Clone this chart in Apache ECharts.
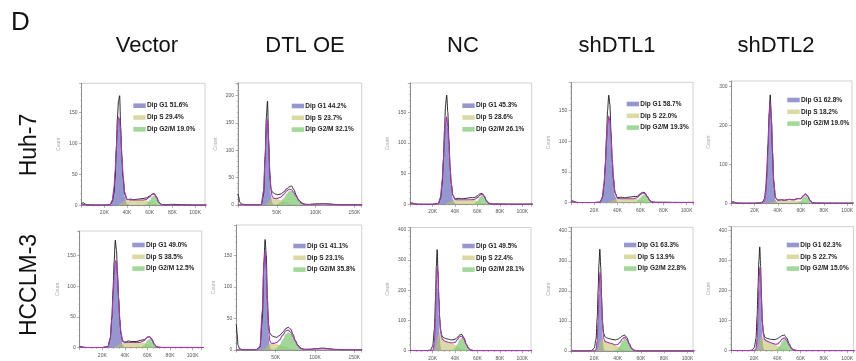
<!DOCTYPE html>
<html><head><meta charset="utf-8">
<script src="https://cdn.jsdelivr.net/npm/echarts@6/dist/echarts.min.js"></script>
<style>html,body{margin:0;padding:0;background:#fff}#c{width:856px;height:361px}</style>
</head><body><div id="c"></div>
<script>
// ---- x sample positions (K) ----
const xsA = [0,1.5,3,5,10, 20,25,27,28.5,29.5, 30.5,31.5,32.5,33.5,34.5, 35.5,36.5,38,40,43, 46,50,54,57,60, 62,64,66,68,70, 73,80,90,100,110];
const xsB = [0,1.5,3,5,10, 15,18,20,21.5,22.5, 23.25,24,24.75,25.5,26.25, 27,28,29,30.5,32, 34,36,38,40,42, 44,46,48,50,52, 54,57,60,65,75, 90,110];
const xsC = [0,1,2,4,8, 15,25,30,33,35, 36.5,38,39.5,41,42.5, 44,46,48,51,55, 59,63,66,69,72, 75,78,82,86,92, 100,110,118,125,135, 145,160];

const colTitles = ["Vector","DTL OE","NC","shDTL1","shDTL2"];
const rowTitles = ["Huh-7","HCCLM-3"];

// ---- Huh-7 Vector ----
const p1G1 = [0,0,0,0,0, 0,1,8,28,55, 90,123,141,136,110, 75,43,14,2,0, 0,0,0,0,0, 0,0,0,0,0, 0,0,0,0,0];
const p1S  = [0,0,0,0,0, 0,0,0,0,0, 0,0,1,2,3, 4.5,6,7,8,8.5, 8.5,8.5,8.5,8,5.5, 3.5,2,1,0.3,0, 0,0,0,0,0];
const p1G2 = [0,0,0,0,0, 0,0,0,0,0, 0,0,0,0,0, 0,0,0,0,0, 0,0,0,1.5,8, 14,16,11,5,1.5, 0,0,0,0,0];
const p1Model = [1.5,1.5,1,0.5,0.3, 0.3,1,8,28,55, 90,123,142,138,113, 79.5,49,21,10,8.5, 8.5,8.5,8.5,9.5,13.5, 17.5,18,12,5.3,1.5, 0.3,0.3,0.3,0.3,0.3];
const p1Total = [3,4,2,1,0.5, 0.5,1,6,20,45, 90,140,168,177,125, 78,45,18,9,10, 9,10,11,12,15, 18,19,14,5,1.5, 1,1.5,1,0.5,0.5];
const p1Labels = ["Dip G1 51.6%","Dip S 29.4%","Dip G2/M 19.0%"];

// ---- Huh-7 DTL OE ----
const p2G1 = [0,0,0,0,0, 0,0,1,27,91, 143,153,110,54,18, 4,0.3,0,0,0, 0,0,0,0,0, 0,0,0,0,0, 0,0,0,0,0, 0,0];
const p2S  = [0,0,0,0,0, 0,0,0,0,0, 1,3,6,9,11, 12,12,11.5,10.5,9, 7,5,3.5,2.5,1.5, 1,0.5,0,0,0, 0,0,0,0,0, 0,0];
const p2G2 = [0,0,0,0,0, 0,0,0,0,0, 0,0,0,0,0, 0,0,0.5,1.6,5.3, 12.4,21,25.4,25.4,21, 14.6,8.4,3,0.8,0.2, 0,0,0,0,0, 0,0];
const p2Model = [0.3,0.3,0.3,0.3,0.3, 0.3,0.3,1,27,91, 144,156,116,63,29, 16,12.3,12,12.1,14.3, 19.4,26,28.9,27.9,22.5, 15.6,8.9,3,1,1, 1.5,2,1.5,0.5,0.3, 0.3,0.3];
const p2Total = [20,15,6,2,1, 0.5,0.3,1,20,90, 160,190,120,55,30, 24,22,20,19,20, 24,30,33,35,28, 18,10,4,1.5,1, 2,2.5,2,1,0.5, 0.5,0.5];
const p2Labels = ["Dip G1 44.2%","Dip S 23.7%","Dip G2/M 32.1%"];

// ---- Huh-7 NC ----
const p3G1 = [0,0,0,0,0, 0,1.4,12,40,71, 106,133,141,124,93, 58,30,8,1,0, 0,0,0,0,0, 0,0,0,0,0, 0,0,0,0,0];
const p3S  = [0,0,0,0,0, 0,0,0,0,0, 0,0.5,1.5,2.5,3.5, 4.5,5.5,6.5,7,7.5, 7.5,7.5,7.5,7,5, 3.5,2,1,0.3,0, 0,0,0,0,0];
const p3G2 = [0,0,0,0,0, 0,0,0,0,0, 0,0,0,0,0, 0,0,0,0,0, 0,0,0,1,6, 11.6,14.5,11.6,6,2, 0.2,0,0,0,0];
const p3Model = [1.5,1.5,1,0.4,0.3, 0.3,1.5,12,40,71, 106,133.5,142.5,126.5,96.5, 62.5,35.5,14.5,8,7.5, 7.5,7.5,7.5,8,11, 15,16.5,12.6,6.3,2, 0.3,0.3,0.3,0.3,0.3];
const p3Total = [2,2.5,1.5,0.5,0.3, 0.3,1.5,10,35,72, 120,162,178,150,105, 62,35,15,9,10, 9,10,11,11,14, 17,18,14,6,2, 0.8,0.8,0.5,0.5,0.5];
const p3Labels = ["Dip G1 45.3%","Dip S 28.6%","Dip G2/M 26.1%"];

// ---- Huh-7 shDTL1 ----
const p4G1 = [0,0,0,0,0, 0,0.5,9,33,61, 95,126,140,130,102, 67,37,11,1,0, 0,0,0,0,0, 0,0,0,0,0, 0,0,0,0,0];
const p4S  = [0,0,0,0,0, 0,0,0,0,0, 0,0.5,1,2,3, 4,5,5.5,6,6.5, 6.5,6.5,6.5,6,4.5, 3,1.5,0.7,0.2,0, 0,0,0,0,0];
const p4G2 = [0,0,0,0,0, 0,0,0,0,0, 0,0,0,0,0, 0,0,0,0,0, 0,0,0,2,8.5, 13,13,8.5,3.5,1, 0.1,0,0,0,0];
const p4Model = [1.5,2,1,0.4,0.3, 0.3,0.8,9,33,61, 95,126.5,141,132,105, 71,42,16.5,7,6.5, 6.5,6.5,6.5,8,13, 16,14.5,9.2,3.7,1, 0.3,0.3,0.3,0.3,0.3];
const p4Total = [2.5,3,1.5,0.5,0.3, 0.3,1,8,30,62, 105,150,175,160,115, 72,40,16,8,9, 8,9,10,10,15, 17,16,10,4,1.5, 0.8,0.8,0.5,0.5,0.5];
const p4Labels = ["Dip G1 58.7%","Dip S 22.0%","Dip G2/M 19.3%"];

// ---- Huh-7 shDTL2 ----
const p5G1 = [0,0,0,0,0, 0,0,0,3,16, 54,128,214,255,214, 128,54,8,0.3,0, 0,0,0,0,0, 0,0,0,0,0, 0,0,0,0,0];
const p5S  = [0,0,0,0,0, 0,0,0,0,0, 0,0,1,2,3, 4,5,6,6.5,7, 7,7,7,6.5,5, 3.5,2,1,0.3,0, 0,0,0,0,0];
const p5G2 = [0,0,0,0,0, 0,0,0,0,0, 0,0,0,0,0, 0,0,0,0,0, 0,0,0,0.5,6, 15,20,15,6,0.5, 0,0,0,0,0];
const p5Model = [2,3,1.5,0.5,0.3, 0.3,1,2,5,20, 58,132,218,258,220, 134,60,15,8,9, 8,10,9,12,12, 19,24,18,7,1.5, 0.5,0.3,0.3,0.3,0.3];
const p5Total = [3,4,2,0.5,0.3, 0.3,1,4,12,35, 80,150,230,278,215, 130,55,14,8,9, 8,10,9,12,12, 19,24,18,7,1.5, 0.5,0.5,0.5,0.5,0.5];
const p5Labels = ["Dip G1 62.8%","Dip S 18.2%","Dip G2/M 19.0%"];

// ---- HCCLM-3 Vector ----
const p6G1 = [0,0,0,0,0, 0,1.6,15,48,82, 118,140,137,111,75, 42,19,4,0.3,0, 0,0,0,0,0, 0,0,0,0,0, 0,0,0,0,0];
const p6S  = [0,0,0,0,0, 0,0,0,0,0, 0.5,1.5,2.5,3.5,4.5, 5.5,6.5,7.5,8,8.5, 8.5,8.5,8.5,8,5.5, 3.5,2,0.8,0.3,0, 0,0,0,0,0];
const p6G2 = [0,0,0,0,0, 0,0,0,0,0, 0,0,0,0,0, 0,0,0,0,0, 0,0,0.3,3.6,12, 14,9.7,4,1,0.2, 0,0,0,0,0];
const p6Model = [1,1,0.5,0.3,0.3, 0.3,1.6,15,48,82, 118.5,141.5,139.5,114.5,79.5, 47.5,25.5,11.5,8.3,8.5, 8.5,8.5,8.8,11.6,17.5, 17.5,11.7,4.8,1.3,0.3, 0.3,0.3,0.3,0.3,0.3];
const p6Total = [2,2,1,0.5,0.3, 0.3,2,15,50,95, 140,175,160,120,80, 45,22,10,9,11, 10,10,12,13,17, 18,14,6,2,1, 0.5,0.5,0.5,0.5,0.5];
const p6Labels = ["Dip G1 49.0%","Dip S 38.5%","Dip G2/M 12.5%"];

// ---- HCCLM-3 DTL OE ----
const p7G1 = [0,0,0,0,0, 0,0,5,64,137, 154,117,60,21,5, 1,0,0,0,0, 0,0,0,0,0, 0,0,0,0,0, 0,0,0,0,0, 0,0];
const p7S  = [0,0,0,0,0, 0,0,0,0,1, 2.5,5,7,8.5,9.5, 10,10,9.5,9,8, 6.5,5,3.5,2.5,1.5, 1,0.5,0,0,0, 0,0,0,0,0, 0,0];
const p7G2 = [0,0,0,0,0, 0,0,0,0,0, 0,0,0,0,0, 0.2,0.5,1,2.8,8, 17,25.5,28,25.5,19.4, 12.2,6.4,2,0.5,0.1, 0,0,0,0,0, 0,0];
const p7Model = [0.3,0.3,0.3,0.3,0.3, 0.3,0.3,5,64,138, 156.5,122,67,29.5,14.5, 11.2,10.5,10.5,11.8,16, 23.5,30.5,31.5,28,21, 13.2,7,2,1,1, 1.5,2,1.5,0.5,0.3, 0.3,0.3];
const p7Total = [40,25,8,2,0.5, 0.3,0.3,5,50,140, 175,150,80,40,27, 24,22,21,20,23, 28,34,36,33,25, 15,8,3,1,1, 2,3,2,1,0.5, 0.3,0.3];
const p7Labels = ["Dip G1 41.1%","Dip S 23.1%","Dip G2/M 35.8%"];

// ---- HCCLM-3 NC ----
const p8G1 = [0,0,0,0,0, 0,0,0.5,23,97, 183,235,203,119,47, 13,1.2,0,0,0, 0,0,0,0,0, 0,0,0,0,0, 0,0,0,0,0, 0,0];
const p8S  = [0,0,0,0,0, 0,0,0,2,12, 28,40,50,56,56, 52,44,37,32,30, 28,26,23,19,15, 10,6,3,1,0.3, 0,0,0,0,0, 0,0];
const p8G2 = [0,0,0,0,0, 0,0,0,0,0, 0,0,0,0,0, 0,0,0,0,0, 0,0.5,2.6,9,21.7, 36,42,33.6,18.7,7.3, 2,0.3,0,0,0, 0,0];
const p8Model = [0.5,0.5,0.5,0.3,0.3, 0.3,0.5,1,25,109, 211,275,253,175,103, 65,45,37,32,30, 28,26.5,25.6,28,36.7, 46,48,36.6,19.7,7.6, 2,0.3,0.3,0.3,0.3, 0.3,0.3];
const p8Total = [1,1,0.5,0.3,0.3, 0.5,2,15,70,170, 280,335,265,175,110, 72,52,45,42,40, 38,36,36,38,44, 52,54,42,22,8, 2,0.5,0.3,0.3,0.3, 0.3,0.3];
const p8Labels = ["Dip G1 49.5%","Dip S 22.4%","Dip G2/M 28.1%"];

// ---- HCCLM-3 shDTL1 ----
const p9G1 = [0,0,0,0,0, 0,0,0,4,32, 91,177,233,207,125, 51,8,1,0,0, 0,0,0,0,0, 0,0,0,0,0, 0,0,0,0,0, 0,0];
const p9S  = [0,0,0,0,0, 0,0,0,0,2, 8,18,30,37,40, 38,35,32,30,28, 26,23,19,15,11, 7,3.5,1.5,0.5,0, 0,0,0,0,0, 0,0];
const p9G2 = [0,0,0,0,0, 0,0,0,0,0, 0,0,0,0,0, 0,0,0,0,0, 0,0.3,1.6,6.4,17.8, 33,42,36,20.7,8, 2,0.3,0,0,0, 0,0];
const p9Model = [0.5,0.5,0.5,0.3,0.3, 0.3,0.5,0.5,4,34, 99,195,263,244,165, 89,43,33,30,28, 26,23.3,20.6,21.4,28.8, 40,45.5,37.5,21.2,8, 2,0.3,0.3,0.3,0.3, 0.3,0.3];
const p9Total = [1,1,0.5,0.3,0.3, 0.5,2,10,40,110, 200,290,339,280,180, 100,60,48,44,42, 40,38,37,39,44, 50,53,45,25,9, 3,0.5,0.3,0.3,0.3, 0.3,0.3];
const p9Labels = ["Dip G1 63.3%","Dip S 13.9%","Dip G2/M 22.8%"];

// ---- HCCLM-3 shDTL2 ----
const p10G1 = [0,0,0,0,0, 0,0,0,5.5,38, 104,192,240,203,116, 45,7,0.5,0,0, 0,0,0,0,0, 0,0,0,0,0, 0,0,0,0,0, 0,0];
const p10S  = [0,0,0,0,0, 0,0,0,0,3, 12,25,38,45,47, 45,41,37,33,30, 27,24,20,16,12, 8,4.5,2,0.7,0, 0,0,0,0,0, 0,0];
const p10G2 = [0,0,0,0,0, 0,0,0,0,0, 0,0,0,0,0, 0,0,0,0,0, 0,0.3,1.6,6.2,16.7, 30.6,38,31.8,18,7, 1.8,0.2,0,0,0, 0,0];
const p10Model = [0.5,0.5,0.5,0.3,0.3, 0.3,0.5,0.5,5.5,41, 116,217,278,248,163, 90,48,37.5,33,30, 27,24.3,21.6,22.2,28.7, 38.6,42.5,33.8,18.7,7, 1.8,0.3,0.3,0.3,0.3, 0.3,0.3];
const p10Total = [1,1,0.5,0.3,0.3, 0.5,2,10,40,115, 210,300,345,280,175, 95,58,46,42,40, 38,37,37,40,45, 50,52,42,24,9, 3,0.5,0.3,0.3,0.3, 0.3,0.3];
const p10Labels = ["Dip G1 62.3%","Dip S 22.7%","Dip G2/M 15.0%"];

// ---- layout (separate from data) ----
const panels = [
 {xs:xsA, g1:p1G1, s:p1S, g2:p1G2, model:p1Model, total:p1Total, labels:p1Labels, box:[81.6,83.3,123.4,122], xMax:108.7, yMax:197, xInt:20, yInt:50, leg:[133.3,105.7]},
 {xs:xsC, g1:p2G1, s:p2S, g2:p2G2, model:p2Model, total:p2Total, labels:p2Labels, box:[238,83,123.7,122], xMax:159.4, yMax:223, xInt:50, yInt:50, leg:[291.7,106]},
 {xs:xsA, g1:p3G1, s:p3S, g2:p3G2, model:p3Model, total:p3Total, labels:p3Labels, box:[410.3,83,121.4,121.4], xMax:108.4, yMax:197.7, xInt:20, yInt:50, leg:[462.3,105.7]},
 {xs:xsA, g1:p4G1, s:p4S, g2:p4G2, model:p4Model, total:p4Total, labels:p4Labels, box:[571.2,82.3,121.8,120.4], xMax:105.5, yMax:196, xInt:20, yInt:50, leg:[626.7,104]},
 {xs:xsA, g1:p5G1, s:p5S, g2:p5G2, model:p5Model, total:p5Total, labels:p5Labels, box:[731.5,81,122.5,122.3], xMax:104.2, yMax:313.6, xInt:20, yInt:100, leg:[787.3,100]},
 {xs:xsA, g1:p6G1, s:p6S, g2:p6G2, model:p6Model, total:p6Total, labels:p6Labels, box:[79.7,231,122,116.7], xMax:108, yMax:190, xInt:20, yInt:50, leg:[132.3,245]},
 {xs:xsC, g1:p7G1, s:p7S, g2:p7G2, model:p7Model, total:p7Total, labels:p7Labels, box:[236.4,225,125.3,125], xMax:159.4, yMax:198, xInt:50, yInt:50, leg:[293.3,246]},
 {xs:xsB, g1:p8G1, s:p8S, g2:p8G2, model:p8Model, total:p8Total, labels:p8Labels, box:[410.3,227.5,120.7,123.2], xMax:107.8, yMax:408, xInt:20, yInt:100, leg:[462.3,246]},
 {xs:xsB, g1:p9G1, s:p9S, g2:p9G2, model:p9Model, total:p9Total, labels:p9Labels, box:[571,227.3,122,123.7], xMax:104.7, yMax:412, xInt:20, yInt:100, leg:[624,245]},
 {xs:xsB, g1:p10G1, s:p10S, g2:p10G2, model:p10Model, total:p10Total, labels:p10Labels, box:[731,226.7,123,124], xMax:105.4, yMax:412, xInt:20, yInt:100, leg:[786.7,245]}
];

const FONT = "'Liberation Sans', Arial, sans-serif";
const C_G1 = '#9597CE', C_S = '#D9DAA4', C_G2 = '#A2D899';
const AREA_G1 = 'rgba(149,151,206,1)';
const AREA_S = 'rgba(192,193,105,0.6)';
const AREA_G2 = 'rgba(135,204,124,0.78)';

const grids = [], xAxes = [], yAxes = [], series = [], graphics = [];
const zip = (xs, ys) => xs.map((x, i) => [x, ys[i]]);

panels.forEach((p, i) => {
  grids.push({left:p.box[0], top:p.box[1], width:p.box[2], height:p.box[3], show:true, borderColor:'#c4c4c4', borderWidth:0.8, backgroundColor:'transparent'});
  xAxes.push({type:'value', gridIndex:i, min:0, max:p.xMax, interval:p.xInt,
    axisLine:{onZero:false, lineStyle:{color:'#7a7a7a', width:0.8}},
    axisTick:{show:true, length:2.5, lineStyle:{color:'#7a7a7a', width:0.6}},
    minorTick:{show:true, splitNumber:4, length:1.3, lineStyle:{color:'#999', width:0.5}},
    splitLine:{show:false},
    axisLabel:{fontSize:5, color:'#555', margin:5, fontFamily:FONT, showMaxLabel:false,
      formatter: v => v === 0 ? '' : v + 'K'}});
  yAxes.push({type:'value', gridIndex:i, min:0, max:p.yMax, interval:p.yInt,
    name:'Count', nameLocation:'middle', nameGap:20, nameTextStyle:{fontSize:5, color:'#aaa', fontFamily:FONT},
    axisLine:{show:true, lineStyle:{color:'#7a7a7a', width:0.8}},
    axisTick:{show:true, length:2.5, lineStyle:{color:'#7a7a7a', width:0.6}},
    minorTick:{show:true, splitNumber:5, length:1.3, lineStyle:{color:'#999', width:0.5}},
    splitLine:{show:false},
    axisLabel:{fontSize:5, color:'#555', margin:4, fontFamily:FONT, showMaxLabel:false}});
  const base = {type:'line', xAxisIndex:i, yAxisIndex:i, symbol:'none', silent:true, animation:false, smoothMonotone:'x'};
  series.push(Object.assign({}, base, {name:'g1_'+i, data:zip(p.xs,p.g1), smooth:0.35, lineStyle:{width:0}, areaStyle:{color:AREA_G1, opacity:1}, z:2}));
  series.push(Object.assign({}, base, {name:'s_'+i, data:zip(p.xs,p.s), smooth:0.35, lineStyle:{width:0}, areaStyle:{color:AREA_S, opacity:1}, z:3}));
  series.push(Object.assign({}, base, {name:'g2_'+i, data:zip(p.xs,p.g2), smooth:0.35, lineStyle:{width:0}, areaStyle:{color:AREA_G2, opacity:1}, z:4}));
  series.push(Object.assign({}, base, {name:'tot_'+i, data:zip(p.xs,p.total), smooth:0.25, lineStyle:{color:'#111', width:0.9}, z:5}));
  series.push(Object.assign({}, base, {name:'mod_'+i, data:zip(p.xs,p.model), smooth:0.35, lineStyle:{color:'#A63BAC', width:1.1}, z:6}));
  // legend block
  const cols = [C_G1, C_S, C_G2];
  p.labels.forEach((lab, k) => {
    const cy = p.leg[1] + k * 11.8;
    graphics.push({type:'rect', shape:{x:p.leg[0], y:cy - 2.3, width:12.4, height:4.6}, style:{fill:cols[k]}, z:10});
    graphics.push({type:'text', x:p.leg[0] + 13.6, y:cy, style:{text:lab, font:'bold 6.5px ' + FONT, fill:'#222', verticalAlign:'middle', align:'left'}, z:10});
  });
});

const titleX = [147, 305, 463, 617, 776];
colTitles.forEach((t, i) => {
  graphics.push({type:'text', x:titleX[i], y:46, style:{text:t, font:'22px ' + FONT, fill:'#111', align:'center', verticalAlign:'middle'}});
});
const rowY = [145, 285];
rowTitles.forEach((t, i) => {
  graphics.push({type:'text', x:30, y:rowY[i], rotation:Math.PI/2, style:{text:t, font:'23px ' + FONT, fill:'#111', align:'center', verticalAlign:'middle'}});
});
graphics.push({type:'text', x:11, y:23, style:{text:'D', font:'26px ' + FONT, fill:'#111', align:'left', verticalAlign:'middle'}});

const chart = echarts.init(document.getElementById('c'), null, {renderer:'canvas'});
chart.setOption({
  backgroundColor:'#fff',
  animation:false,
  grid:grids, xAxis:xAxes, yAxis:yAxes, series:series,
  graphic:graphics
});
</script>
</body></html>
